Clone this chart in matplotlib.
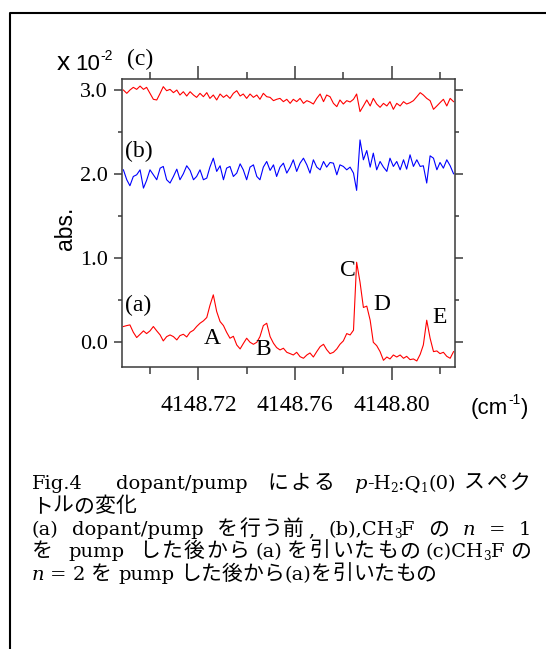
import matplotlib
matplotlib.use('Agg')
import matplotlib.pyplot as plt
from matplotlib.lines import Line2D
from matplotlib.ticker import FixedLocator, FormatStrFormatter

# wavenumber grid (cm-1)
wavenumber = [
    4148.6890, 4148.6904, 4148.6917, 4148.6931, 4148.6945, 4148.6959, 4148.6973, 4148.6986, 4148.7000, 4148.7014,
    4148.7028, 4148.7042, 4148.7055, 4148.7069, 4148.7083, 4148.7097, 4148.7111, 4148.7124, 4148.7138, 4148.7152,
    4148.7166, 4148.7180, 4148.7193, 4148.7207, 4148.7221, 4148.7235, 4148.7248, 4148.7262, 4148.7276, 4148.7290,
    4148.7304, 4148.7317, 4148.7331, 4148.7345, 4148.7359, 4148.7373, 4148.7386, 4148.7400, 4148.7414, 4148.7428,
    4148.7442, 4148.7455, 4148.7469, 4148.7483, 4148.7497, 4148.7511, 4148.7524, 4148.7538, 4148.7552, 4148.7566,
    4148.7580, 4148.7593, 4148.7607, 4148.7621, 4148.7635, 4148.7649, 4148.7662, 4148.7676, 4148.7690, 4148.7704,
    4148.7718, 4148.7731, 4148.7745, 4148.7759, 4148.7773, 4148.7786, 4148.7800, 4148.7814, 4148.7828, 4148.7842,
    4148.7855, 4148.7869, 4148.7883, 4148.7897, 4148.7911, 4148.7924, 4148.7938, 4148.7952, 4148.7966, 4148.7980,
    4148.7993, 4148.8007, 4148.8021, 4148.8035, 4148.8049, 4148.8062, 4148.8076, 4148.8090, 4148.8104, 4148.8118,
    4148.8131, 4148.8145, 4148.8159, 4148.8173, 4148.8187, 4148.8200, 4148.8214, 4148.8228, 4148.8242, 4148.8256,
]

# (a) before dopant/pump
trace_a = [
    0.187, 0.198, 0.206, 0.119, 0.056, 0.095, 0.135, 0.103, 0.135, 0.187,
    0.135, 0.087, 0.016, 0.067, 0.087, 0.067, 0.028, 0.079, 0.095, 0.063,
    0.119, 0.143, 0.187, 0.226, 0.254, 0.294, 0.437, 0.563, 0.365, 0.246,
    0.198, 0.119, 0.048, 0.071, -0.032, -0.079, -0.016, 0.048, 0.000, -0.024,
    0.000, 0.067, 0.198, 0.226, 0.067, -0.012, -0.063, -0.091, -0.071, -0.119,
    -0.135, -0.151, -0.119, -0.171, -0.190, -0.151, -0.127, -0.175, -0.111, -0.052,
    -0.024, -0.087, -0.135, -0.119, -0.079, -0.024, 0.016, 0.103, 0.087, 0.143,
    0.950, 0.714, 0.413, 0.429, 0.262, 0.000, -0.040, -0.111, -0.214, -0.175,
    -0.198, -0.151, -0.175, -0.151, -0.190, -0.167, -0.206, -0.198, -0.222, -0.143,
    -0.032, 0.262, 0.048, -0.111, -0.103, -0.135, -0.119, -0.167, -0.190, -0.111,
]

# (b) CH3F n=1 pumped minus (a), offset +2
trace_b = [
    2.047, 1.929, 1.858, 1.968, 1.988, 2.047, 1.830, 1.921, 2.047, 1.988,
    1.929, 2.067, 2.087, 1.929, 1.890, 1.968, 2.055, 1.929, 2.000, 2.095,
    2.040, 1.929, 1.968, 2.047, 1.929, 1.949, 2.079, 2.185, 2.028, 2.095,
    1.929, 2.067, 2.087, 1.968, 2.008, 2.118, 2.047, 1.929, 2.079, 2.106,
    1.968, 1.929, 2.079, 2.146, 2.040, 2.106, 1.968, 2.079, 2.126, 2.008,
    2.079, 2.166, 2.028, 2.126, 2.185, 2.106, 2.008, 2.166, 2.079, 2.047,
    2.146, 2.079, 2.134, 2.126, 1.988, 2.106, 2.087, 2.047, 2.079, 2.008,
    1.803, 2.402, 2.166, 2.276, 2.079, 2.245, 2.047, 2.146, 2.079, 2.028,
    2.185, 2.087, 2.146, 2.047, 2.166, 2.055, 2.225, 2.087, 2.166, 2.087,
    2.095, 1.890, 2.213, 2.185, 2.047, 2.134, 2.067, 2.166, 2.095, 2.000,
]

# (c) CH3F n=2 pumped minus (a), offset +3
trace_c = [
    2.994, 2.955, 2.994, 3.026, 3.002, 3.041, 3.002, 3.026, 2.955, 2.884,
    2.876, 2.955, 3.034, 2.986, 3.002, 2.963, 2.994, 2.935, 2.974, 2.923,
    2.974, 2.935, 2.907, 2.955, 2.915, 2.963, 2.895, 2.935, 2.876, 2.947,
    2.907, 2.935, 2.895, 2.955, 2.986, 2.923, 2.947, 2.895, 2.947, 2.907,
    2.935, 2.884, 2.955, 2.915, 2.907, 2.868, 2.884, 2.895, 2.856, 2.884,
    2.836, 2.884, 2.856, 2.895, 2.836, 2.868, 2.852, 2.828, 2.895, 2.947,
    2.856, 2.935, 2.915, 2.836, 2.797, 2.876, 2.828, 2.868, 2.852, 2.884,
    2.947, 2.738, 2.805, 2.876, 2.805, 2.895, 2.828, 2.789, 2.836, 2.805,
    2.856, 2.765, 2.836, 2.805, 2.856, 2.828, 2.844, 2.868, 2.915, 2.963,
    2.935, 2.895, 2.868, 2.765, 2.805, 2.844, 2.884, 2.805, 2.895, 2.856,
]

peak_names = ['A', 'B', 'C', 'D', 'E']
peak_x = [4148.7259, 4148.7469, 4148.7817, 4148.7960, 4148.8196]
peak_y = [0.04, -0.09, 0.85, 0.45, 0.29]

trace_names = ['(a)', '(b)', '(c)']
trace_label_x = [4148.6897, 4148.6897, 4148.6905]
trace_label_y = [0.44, 2.27, 3.36]

x_major = [4148.72, 4148.76, 4148.80]
x_minor = [4148.70, 4148.74, 4148.78, 4148.82]
y_major = [0.0, 1.0, 2.0, 3.0]
y_minor = [0.5, 1.5, 2.5]

W, H = 546, 649
serif = 'Liberation Serif'
sans = 'Liberation Sans'
cap_serif = 'DejaVu Serif'
jp = 'Noto Sans CJK JP'
spine_col = '#3a3a3a'

fig = plt.figure(figsize=(W / 100, H / 100), dpi=100)
ax = fig.add_axes([121.7 / W, 1 - 366.7 / H, (455 - 121.7) / W, (366.7 - 79) / H])

ax.plot(wavenumber, trace_a, color='#ff0000', lw=0.8)
ax.plot(wavenumber, trace_b, color='#0000ff', lw=0.8)
ax.plot(wavenumber, trace_c, color='#ff0000', lw=0.8)

ax.set_xlim(4148.6883, 4148.8262)
ax.set_ylim(-0.29, 3.125)

ax.xaxis.set_major_locator(FixedLocator(x_major))
ax.xaxis.set_minor_locator(FixedLocator(x_minor))
ax.yaxis.set_major_locator(FixedLocator(y_major))
ax.yaxis.set_minor_locator(FixedLocator(y_minor))
ax.xaxis.set_major_formatter(FormatStrFormatter('%.2f'))
ax.yaxis.set_major_formatter(FormatStrFormatter('%.1f'))

for s in ax.spines.values():
    s.set_color(spine_col)
    s.set_linewidth(1.1)

ax.tick_params(axis='x', which='both', direction='out', top=True, bottom=True,
               color=spine_col, width=1.1)
ax.tick_params(axis='x', which='major', length=9.2, pad=11)
ax.tick_params(axis='x', which='minor', length=4.8)
ax.tick_params(axis='y', which='both', direction='out', left=True, right=True,
               color=spine_col, width=1.1)
ax.tick_params(axis='y', which='major', length=6, pad=4)
ax.tick_params(axis='y', which='minor', length=3.2)
for lab in ax.get_xticklabels():
    lab.set_fontfamily(serif)
    lab.set_fontsize(17)
for lab in ax.get_yticklabels():
    lab.set_fontfamily(serif)
    lab.set_fontsize(16)

for name, px, py in zip(peak_names, peak_x, peak_y):
    ax.text(px, py, name, family=serif, fontsize=17, ha='center', va='center')
for name, px, py in zip(trace_names, trace_label_x, trace_label_y):
    ax.text(px, py, name, family=serif, fontsize=17, ha='left', va='center', clip_on=False)

fig.text(65.5 / W, 1 - 228 / H, 'abs.', family=sans, fontsize=16.5,
         rotation=90, ha='center', va='center')

renderer = fig.canvas.get_renderer()


def place(x_px, y_px, pieces):
    # pieces: (text, kwargs, dy) laid out left to right from x_px, baseline y_px
    x = x_px
    for s, kw, dy in pieces:
        if s is None:
            x += kw
            continue
        t = fig.text(x / W, 1 - (y_px + dy) / H, s, ha='left', va='baseline', **kw)
        x += t.get_window_extent(renderer).width
    return x


big = dict(family=sans, fontsize=16)
small = dict(family=sans, fontsize=10)
place(57, 70, [('x', dict(family=sans, fontsize=19), 0), (None, 5, 0), ('10', big, 0),
               ('-2', small, -10)])
place(471, 414, [('(cm', big, 0), ('-1', small, -10), (')', big, 0)])

# outer frame (left and top edges visible)
fig.add_artist(Line2D([10 / W, 10 / W, 1.0], [0.0, 1 - 13 / H, 1 - 13 / H],
                      transform=fig.transFigure, color='black', lw=1.5))

# caption: Latin in serif, Japanese in CJK font, lines 1, 3, 4 justified
LAT, JPS = 14, 15
CAP_LEFT, CAP_RIGHT = 31.7, 531


def style_of(kind):
    if kind == 'j':
        return dict(family=jp, fontsize=JPS), 0
    if kind == 'i':
        return dict(family=cap_serif, fontsize=LAT, style='italic'), 0
    if kind == 'sub':
        return dict(family=cap_serif, fontsize=LAT * 0.62), 3
    return dict(family=cap_serif, fontsize=LAT), 0


def boundary_weight(a, b):
    # how much of the justification slack goes between two pieces
    if a == 'gap':
        return 1.0
    if b in ('gap', 'fix') or a == 'fix' or 'sub' in (a, b):
        return 0.0
    if a == 'j' and b == 'j':
        return 0.15
    if 'j' in (a, b):
        return 0.6
    return 0.0


def caption_line(y_px, parts, justify=False):
    # split Japanese runs into single characters so they can be spread
    items = []
    for s, kind in parts:
        if kind == 'j':
            items.extend((ch, 'j') for ch in s)
        else:
            items.append((s, kind))
    widths = []
    for s, kind in items:
        if kind in ('gap', 'fix'):
            widths.append(s)
        else:
            kw, _ = style_of(kind)
            t = fig.text(0, 0, s, **kw)
            widths.append(t.get_window_extent(renderer).width)
            t.remove()
    weights = [boundary_weight(items[k][1], items[k + 1][1]) for k in range(len(items) - 1)]
    extra = 0.0
    if justify and sum(weights) > 0:
        extra = (CAP_RIGHT - CAP_LEFT - sum(widths)) / sum(weights)
    x = CAP_LEFT
    for k, (s, kind) in enumerate(items):
        if kind not in ('gap', 'fix'):
            kw, dy = style_of(kind)
            fig.text(x / W, 1 - (y_px + dy) / H, s, ha='left', va='baseline', **kw)
        x += widths[k]
        if k < len(weights):
            x += extra * weights[k]


sp = 6
caption_line(489, [('Fig.4', 'r'), (33, 'fix'), ('dopant/pump', 'r'), (sp, 'gap'),
                   ('による', 'j'), (sp, 'gap'), ('p', 'i'), ('-H', 'r'), ('2', 'sub'),
                   (':Q', 'r'), ('1', 'sub'), ('(0)', 'r'), ('スペク', 'j')], justify=True)
caption_line(512, [('トルの変化', 'j')])
caption_line(535, [('(a)', 'r'), (sp, 'gap'), ('dopant/pump', 'r'), (sp, 'gap'),
                   ('を行う前', 'j'), (',', 'r'), (sp, 'gap'), ('(b),CH', 'r'), ('3', 'sub'),
                   ('F', 'r'), (sp, 'gap'), ('の', 'j'), (sp, 'gap'), ('n', 'i'), (sp, 'gap'),
                   ('=', 'r'), (sp, 'gap'), ('1', 'r')], justify=True)
caption_line(557, [('を', 'j'), (sp, 'gap'), ('pump', 'r'), (sp, 'gap'), ('した後から', 'j'),
                   ('(a)', 'r'), ('を引いたもの', 'j'), ('(c)CH', 'r'), ('3', 'sub'),
                   ('F', 'r'), ('の', 'j')], justify=True)
caption_line(580, [('n', 'i'), (sp, 'gap'), ('=', 'r'), (sp, 'gap'), ('2', 'r'), (sp, 'gap'),
                   ('を', 'j'), (sp, 'gap'), ('pump', 'r'), (sp, 'gap'), ('した後から', 'j'),
                   ('(a)', 'r'), ('を引いたもの', 'j')])

fig.savefig('out.png', dpi=100)
